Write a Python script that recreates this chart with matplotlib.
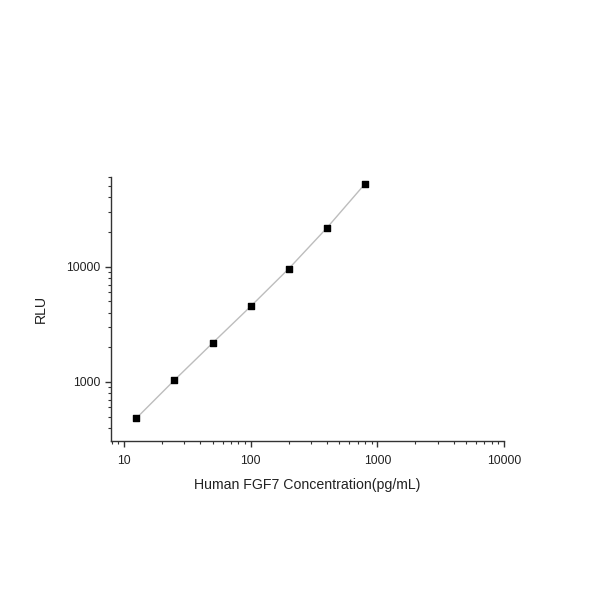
import numpy as np
import matplotlib.pyplot as plt
from matplotlib.ticker import LogLocator, FixedLocator, NullFormatter

plt.rcParams['font.family'] = ['Liberation Sans', 'DejaVu Sans']

conc = [12.5, 25, 50, 100, 200, 400, 800]
rlu = [483, 1035, 2171, 4519, 9607, 21710, 52380]
x_ticks = [10, 100, 1000, 10000]
y_ticks = [1000, 10000]

fig = plt.figure(figsize=(6, 6), dpi=100)
ax = fig.add_axes([0.185, 0.265, 0.655, 0.44])

ax.plot(conc, rlu, color="#bdbdbd", linewidth=1.0, zorder=1)
ax.scatter(conc, rlu, marker="s", s=20, color="black", zorder=2)

ax.set_xscale("log")
ax.set_yscale("log")
ax.set_xlim(7.9, 10000)
ax.set_ylim(307, 60000)

ax.xaxis.set_major_locator(FixedLocator(x_ticks))
ax.set_xticklabels([str(t) for t in x_ticks])
ax.yaxis.set_major_locator(FixedLocator(y_ticks))
ax.set_yticklabels([str(t) for t in y_ticks])
ax.xaxis.set_minor_locator(LogLocator(base=10, subs=np.arange(2, 10), numticks=20))
ax.yaxis.set_minor_locator(LogLocator(base=10, subs=np.arange(2, 10), numticks=20))
ax.xaxis.set_minor_formatter(NullFormatter())
ax.yaxis.set_minor_formatter(NullFormatter())

for side in ["top", "right"]:
    ax.spines[side].set_visible(False)
for side in ["left", "bottom"]:
    ax.spines[side].set_color("#333333")
    ax.spines[side].set_linewidth(1.0)

ax.tick_params(which="major", direction="out", length=4, width=1, colors="#333333",
               labelsize=8.7, labelcolor="#222222")
ax.tick_params(which="minor", direction="out", length=2.5, width=0.8, colors="#333333")
ax.tick_params(axis="x", which="major", pad=6)

ax.set_xlabel("Human FGF7 Concentration(pg/mL)", fontsize=10.2, color="#222222", labelpad=8)
ax.set_ylabel("RLU", fontsize=10.2, color="#222222", labelpad=13)

fig.savefig("out.png", dpi=100)
